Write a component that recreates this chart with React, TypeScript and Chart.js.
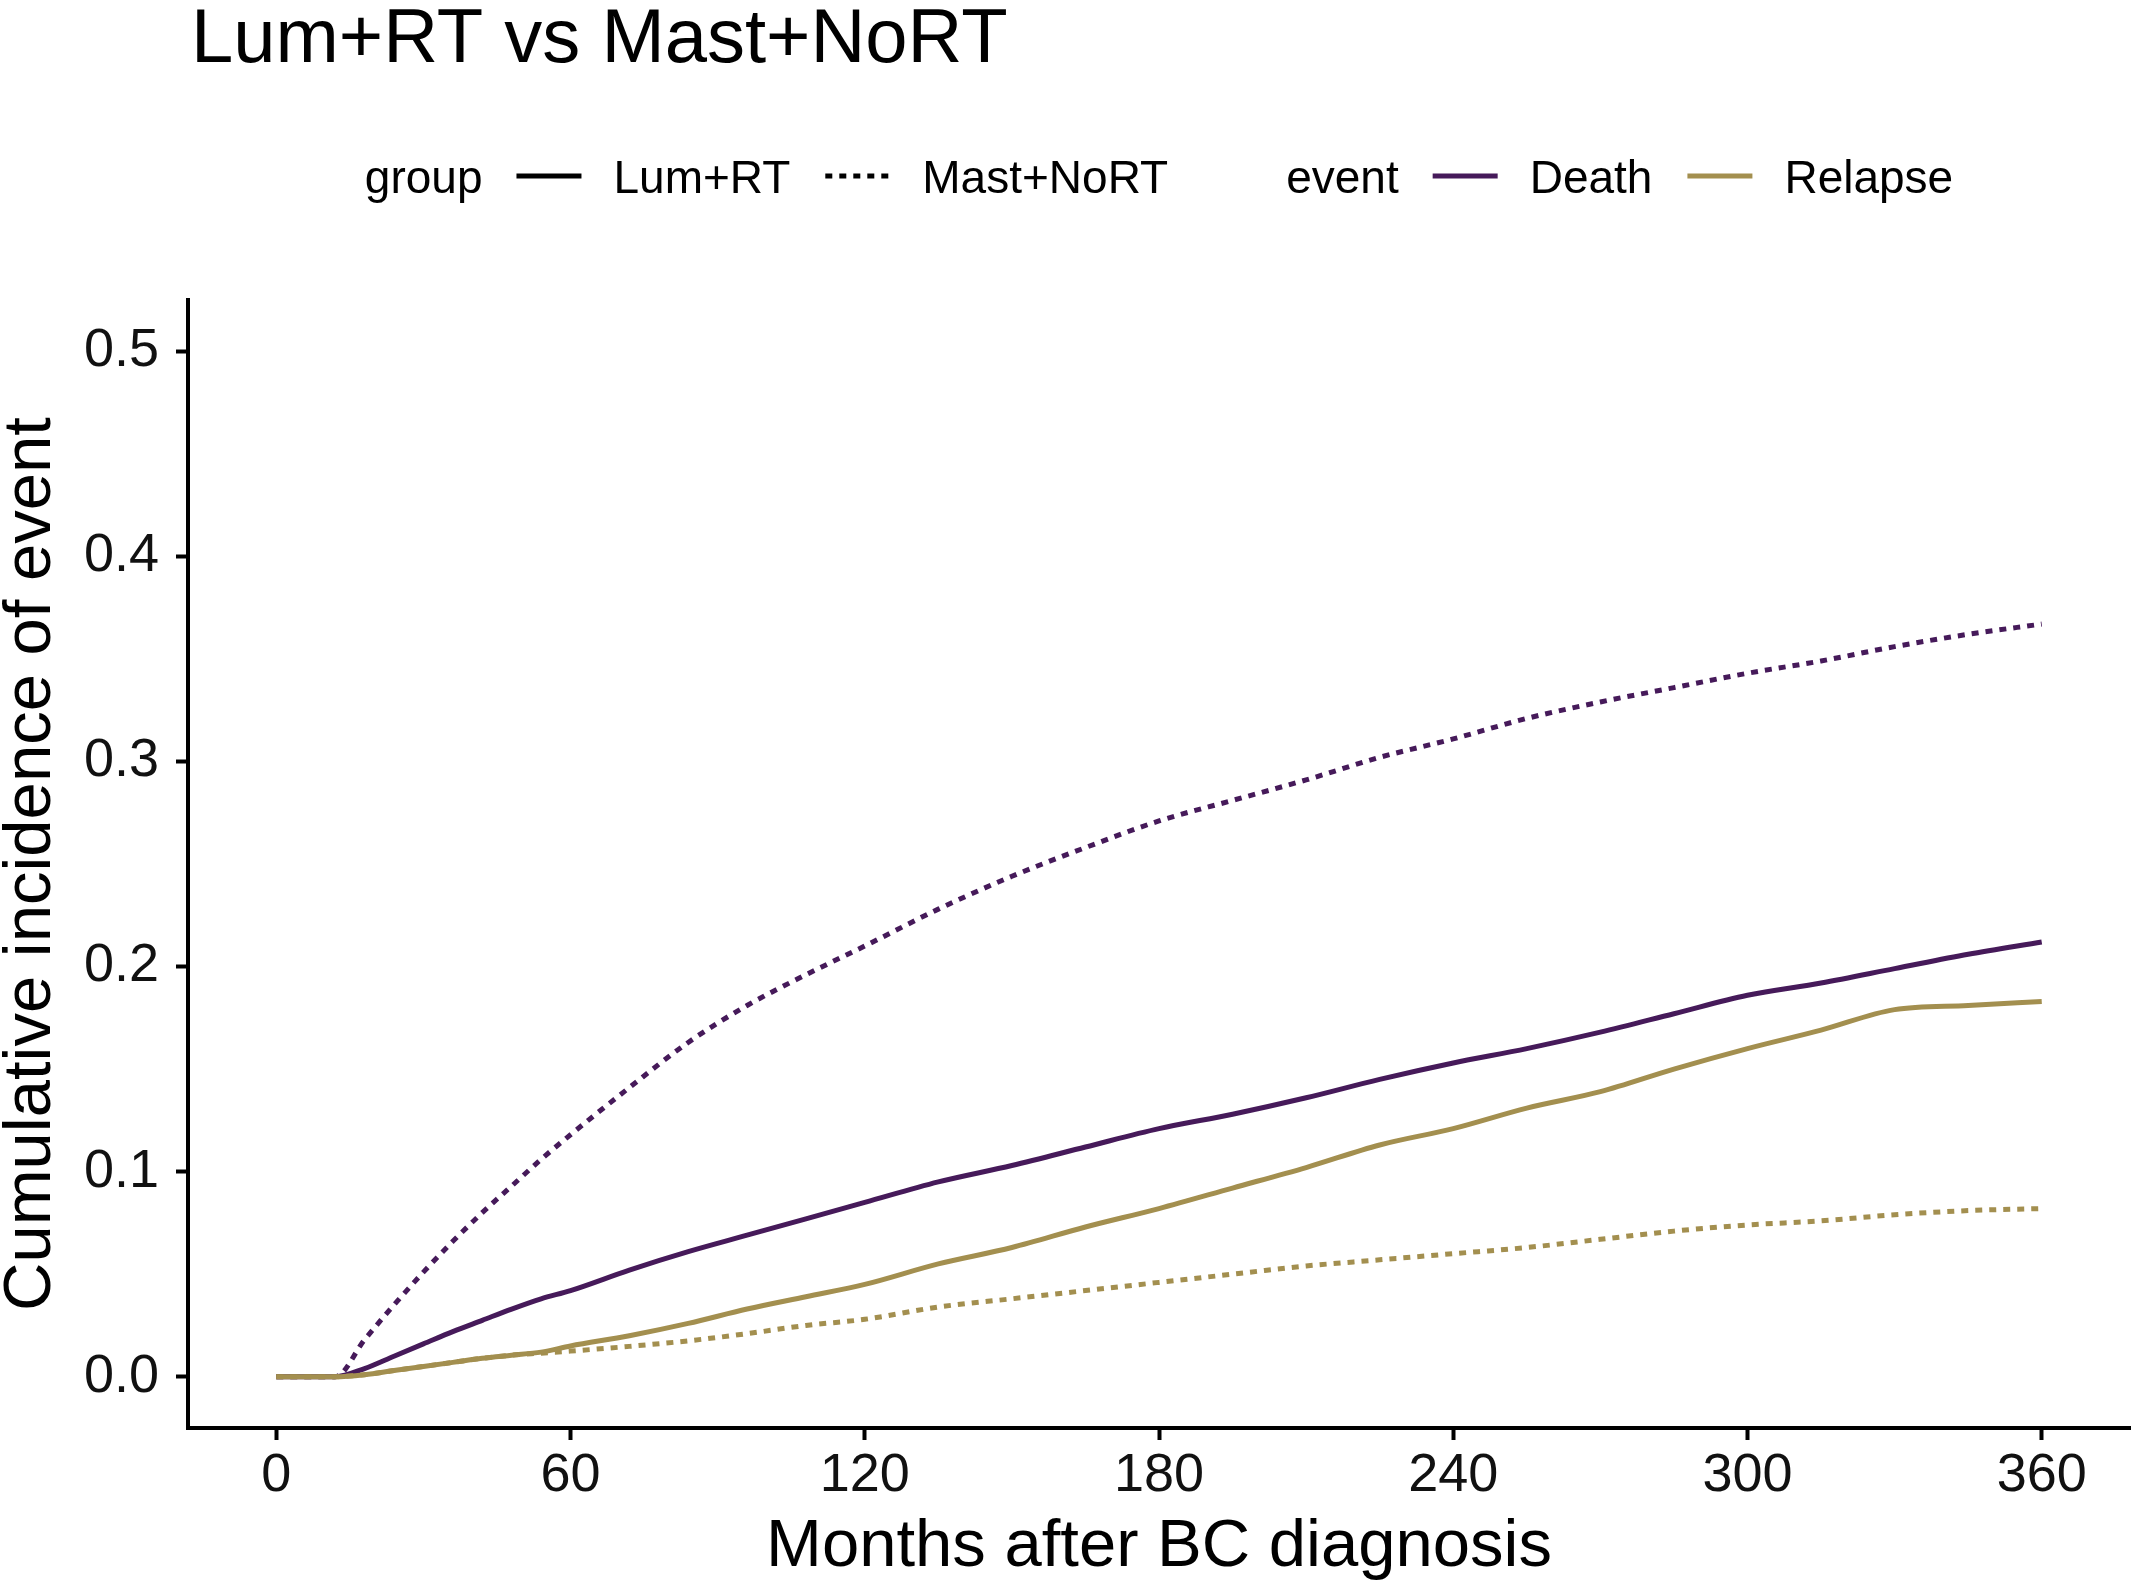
import { useEffect, useRef } from "react"
import { Chart, registerables } from "chart.js"

Chart.register(...registerables)

// months after diagnosis at which the curves were read
const months = [0, 12, 18, 24, 30, 36, 42, 48, 54, 60, 72, 84, 96, 108, 120, 135, 150, 165, 180, 195, 210, 225, 240, 255, 270, 285, 300, 315, 330, 345, 360]

const deathLumRT = [0, 0, 0.004, 0.01, 0.016, 0.022, 0.0275, 0.033, 0.038, 0.042, 0.052, 0.061, 0.069, 0.077, 0.085, 0.095, 0.103, 0.112, 0.121, 0.128, 0.136, 0.145, 0.153, 0.16, 0.168, 0.177, 0.186, 0.192, 0.199, 0.206, 0.212]
const deathMastNoRT = [0, 0, 0.018, 0.035, 0.051, 0.066, 0.08, 0.093, 0.106, 0.118, 0.141, 0.163, 0.181, 0.196, 0.21, 0.228, 0.244, 0.258, 0.271, 0.281, 0.291, 0.302, 0.311, 0.321, 0.329, 0.336, 0.343, 0.349, 0.356, 0.362, 0.367]
const relapseLumRT = [0, 0, 0.001, 0.003, 0.005, 0.007, 0.009, 0.0105, 0.012, 0.015, 0.02, 0.026, 0.033, 0.039, 0.045, 0.055, 0.063, 0.073, 0.082, 0.092, 0.102, 0.113, 0.121, 0.131, 0.139, 0.15, 0.16, 0.169, 0.179, 0.181, 0.183]
const relapseMastNoRT = [0, 0, 0.001, 0.003, 0.005, 0.007, 0.009, 0.0105, 0.0115, 0.0125, 0.0148, 0.0175, 0.021, 0.025, 0.028, 0.034, 0.038, 0.042, 0.046, 0.05, 0.054, 0.057, 0.06, 0.063, 0.067, 0.071, 0.074, 0.076, 0.079, 0.081, 0.082]

const xTicks = [0, 60, 120, 180, 240, 300, 360]
const yTicks = [0, 0.1, 0.2, 0.3, 0.4, 0.5]

const groups = ["Lum+RT", "Mast+NoRT"]
const events = ["Death", "Relapse"]

const PURPLE = "#461a5a"
const GOLD = "#a38f4f"
const DOTS = [7, 7]
const FONT = "'Liberation Sans', Arial, sans-serif"

const toPoints = (vals: number[]) => months.map((m, i) => ({ x: m, y: vals[i] }))

// ggplot-like title and two-part legend drawn above the panel
const headerPlugin = {
  id: "ggHeader",
  afterDraw(chart: Chart) {
    const { ctx, chartArea } = chart
    ctx.save()
    ctx.fillStyle = "#000"
    ctx.textAlign = "left"
    ctx.textBaseline = "alphabetic"
    ctx.font = `76px ${FONT}`
    ctx.fillText("Lum+RT vs Mast+NoRT", chartArea.left + 3, 62)

    ctx.font = `46px ${FONT}`
    const sections = [
      { title: "group", keys: groups.map((g, i) => ({ label: g, color: "#000", dash: i === 0 ? [] : DOTS })) },
      { title: "event", keys: events.map((e, i) => ({ label: e, color: i === 0 ? PURPLE : GOLD, dash: [] as number[] })) },
    ]
    const keyLen = 65
    const gapTitle = 34
    const gapKey = 32
    const gapItem = 35
    const gapSection = 118

    let total = 0
    sections.forEach((s, si) => {
      total += ctx.measureText(s.title).width + gapTitle
      s.keys.forEach((k, ki) => {
        total += keyLen + gapKey + ctx.measureText(k.label).width
        if (ki < s.keys.length - 1) total += gapItem
      })
      if (si < sections.length - 1) total += gapSection
    })

    let x = (chartArea.left + chartArea.right) / 2 - total / 2
    const baseline = 193
    const lineY = 176
    sections.forEach((s) => {
      ctx.fillStyle = "#000"
      ctx.fillText(s.title, x, baseline)
      x += ctx.measureText(s.title).width + gapTitle
      s.keys.forEach((k) => {
        ctx.beginPath()
        ctx.strokeStyle = k.color
        ctx.lineWidth = 5
        ctx.setLineDash(k.dash)
        ctx.moveTo(x, lineY)
        ctx.lineTo(x + keyLen, lineY)
        ctx.stroke()
        ctx.setLineDash([])
        x += keyLen + gapKey
        ctx.fillStyle = "#000"
        ctx.fillText(k.label, x, baseline)
        x += ctx.measureText(k.label).width + gapItem
      })
      x += gapSection - gapItem
    })
    ctx.restore()
  },
}

export default function App() {
  const canvasRef = useRef<HTMLCanvasElement>(null)
  const chartRef = useRef<Chart | null>(null)

  useEffect(() => {
    if (!canvasRef.current) return
    document.body.style.margin = "0"
    if (chartRef.current) chartRef.current.destroy()

    const common = { pointRadius: 0, borderWidth: 5, cubicInterpolationMode: "monotone" as const, fill: false }

    chartRef.current = new Chart(canvasRef.current, {
      type: "line",
      data: {
        datasets: [
          { label: "Relapse Lum+RT", data: toPoints(relapseLumRT), borderColor: GOLD, ...common },
          { label: "Relapse Mast+NoRT", data: toPoints(relapseMastNoRT), borderColor: GOLD, borderDash: DOTS, ...common },
          { label: "Death Lum+RT", data: toPoints(deathLumRT), borderColor: PURPLE, ...common },
          { label: "Death Mast+NoRT", data: toPoints(deathMastNoRT), borderColor: PURPLE, borderDash: DOTS, ...common },
        ],
      },
      options: {
        animation: false,
        responsive: true,
        maintainAspectRatio: false,
        layout: { padding: { top: 300, right: 8, left: 0, bottom: 0 } },
        plugins: {
          legend: { display: false },
          title: { display: false },
          tooltip: { enabled: false },
        },
        scales: {
          x: {
            type: "linear",
            min: -18,
            max: 378,
            afterBuildTicks: (scale) => {
              scale.ticks = xTicks.map((v) => ({ value: v }))
            },
            afterFit: (scale) => {
              scale.height = 166
            },
            grid: { drawOnChartArea: false, drawTicks: true, tickLength: 12, tickWidth: 4, tickColor: "#000" },
            border: { display: true, color: "#000", width: 4 },
            ticks: {
              color: "#111",
              padding: 9,
              maxRotation: 0,
              font: { family: FONT, size: 54, lineHeight: 1 },
              callback: (v) => String(v),
            },
            title: {
              display: true,
              text: "Months after BC diagnosis",
              color: "#000",
              font: { family: FONT, size: 67, lineHeight: 1 },
              padding: { top: 0, bottom: 13 },
            },
          },
          y: {
            type: "linear",
            min: -0.025,
            max: 0.525,
            afterBuildTicks: (scale) => {
              scale.ticks = yTicks.map((v) => ({ value: v }))
            },
            afterFit: (scale) => {
              scale.width = 188
            },
            grid: { drawOnChartArea: false, drawTicks: true, tickLength: 12, tickWidth: 4, tickColor: "#000" },
            border: { display: true, color: "#000", width: 4 },
            ticks: {
              color: "#111",
              padding: 17,
              font: { family: FONT, size: 54, lineHeight: 1 },
              callback: (v) => Number(v).toFixed(1),
            },
            title: {
              display: true,
              text: "Cumulative incidence of event",
              color: "#000",
              font: { family: FONT, size: 67, lineHeight: 0.95 },
              padding: { top: 0, bottom: 0 },
            },
          },
        },
      },
      plugins: [headerPlugin],
    })

    return () => {
      if (chartRef.current) {
        chartRef.current.destroy()
        chartRef.current = null
      }
    }
  }, [])

  return (
    <div style={{ width: 2138, height: 1594, position: "relative", overflow: "hidden", background: "#fff" }}>
      <canvas ref={canvasRef} />
    </div>
  )
}
